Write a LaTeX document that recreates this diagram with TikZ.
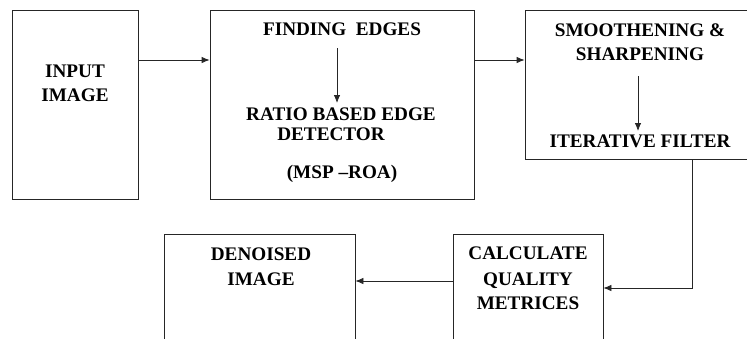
\documentclass[tikz,border=0pt]{standalone}
\usepackage{fontspec}
\setmainfont{Liberation Serif}
\usetikzlibrary{arrows.meta}
\tikzset{
  box/.style={draw=black!85, line width=0.8pt, inner sep=0pt, rectangle},
  lbl/.style={anchor=base, inner sep=0pt, font=\fontsize{19.2}{22}\selectfont\bfseries},
  arr/.style={draw=black!85, line width=0.8pt, -{Latex[length=8pt,width=6.5pt]}},
}
\begin{document}
\begin{tikzpicture}[x=1pt,y=-1pt]
\useasboundingbox (0,0) rectangle (747,338);
\clip (0,0) rectangle (747,338);
% boxes
\node[box, minimum width=126pt, minimum height=189pt] (inbox) at (75,104.5) {};
\node[box, minimum width=264pt, minimum height=189pt] (edgebox) at (342,104.5) {};
\node[box, minimum width=240pt, minimum height=148.5pt] (smbox) at (645,84.75) {};
\node[box, minimum width=191pt, minimum height=120pt] (denbox) at (259.5,294) {};
\node[box, minimum width=150pt, minimum height=120pt] (calcbox) at (528,294) {};
% texts
\node[lbl] (t1) at (75,77) {INPUT};
\node[lbl] (t2) at (75,101) {IMAGE};
\node[lbl] (t3) at (342,35) {FINDING\ \ EDGES};
\node[lbl] (t4) at (341,120) {RATIO BASED EDGE};
\node[lbl] (t5) at (331,140) {DETECTOR};
\node[lbl] (t6) at (342,178) {(MSP –ROA)};
\node[lbl] (t7) at (640,36) {SMOOTHENING \&};
\node[lbl] (t8) at (640,60) {SHARPENING};
\node[lbl] (t9) at (640,147) {ITERATIVE FILTER};
\node[lbl] (t10) at (261,260) {DENOISED};
\node[lbl] (t11) at (261,285) {IMAGE};
\node[lbl] (t12) at (528,259) {CALCULATE};
\node[lbl] (t13) at (528,285) {QUALITY};
\node[lbl] (t14) at (528,309) {METRICES};
% helper coordinates
\coordinate (ya) at (0,60);
\coordinate (yb) at (0,288);
\coordinate (yc) at (0,281);
\coordinate (xd) at (692,0);
\coordinate (e1s) at (337,48);
\coordinate (e1e) at (337,103);
\coordinate (s1s) at (638,76);
\coordinate (s1e) at (638,131);
% connectors
\draw[arr] (inbox.east |- ya) -- (edgebox.west |- ya);
\draw[arr] (edgebox.east |- ya) -- (smbox.west |- ya);
\draw[arr] (e1s) -- (e1e);
\draw[arr] (s1s) -- (s1e);
\draw[arr] (smbox.south -| xd) |- (calcbox.east |- yb);
\draw[arr] (calcbox.west |- yc) -- (denbox.east |- yc);
\end{tikzpicture}
\end{document}
